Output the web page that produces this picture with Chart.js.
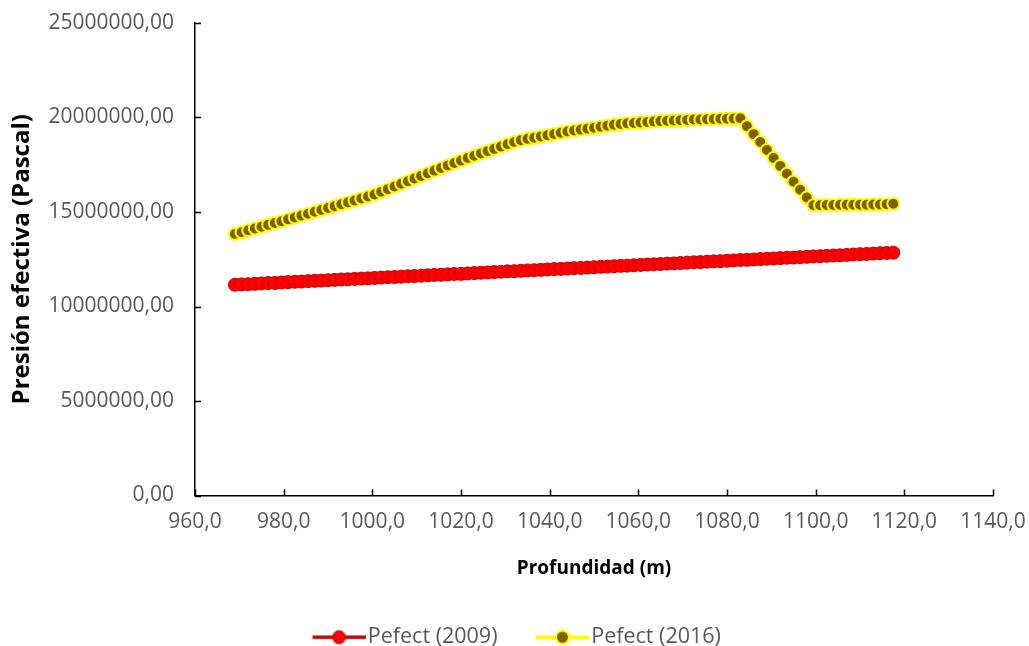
<!DOCTYPE html>
<html>
<head>
<meta charset="utf-8">
<script src="https://cdn.jsdelivr.net/npm/chart.js@4/dist/chart.umd.min.js"></script>
<style>
  html, body { margin: 0; padding: 0; background: #fff; }
  #wrap { width: 1029px; height: 646px; }
</style>
</head>
<body>
<div id="wrap"><canvas id="chart" width="1029" height="646"></canvas></div>
<script>
// Profundidad (m)
const depths = [
  969.0, 970.5, 972.0, 973.5, 975.0, 976.5, 978.0, 979.5, 981.0, 982.5,
  984.0, 985.5, 987.0, 988.5, 990.0, 991.5, 993.0, 994.5, 996.0, 997.5,
  999.0, 1000.5, 1002.0, 1003.5, 1005.0, 1006.5, 1008.0, 1009.5, 1011.0, 1012.5,
  1014.0, 1015.5, 1017.0, 1018.5, 1020.0, 1021.5, 1023.0, 1024.5, 1026.0, 1027.5,
  1029.0, 1030.5, 1032.0, 1033.5, 1035.0, 1036.5, 1038.0, 1039.5, 1041.0, 1042.5,
  1044.0, 1045.5, 1047.0, 1048.5, 1050.0, 1051.5, 1053.0, 1054.5, 1056.0, 1057.5,
  1059.0, 1060.5, 1062.0, 1063.5, 1065.0, 1066.5, 1068.0, 1069.5, 1071.0, 1072.5,
  1074.0, 1075.5, 1077.0, 1078.5, 1080.0, 1081.5, 1083.0, 1084.5, 1086.0, 1087.5,
  1089.0, 1090.5, 1092.0, 1093.5, 1095.0, 1096.5, 1098.0, 1099.5, 1101.0, 1102.5,
  1104.0, 1105.5, 1107.0, 1108.5, 1110.0, 1111.5, 1113.0, 1114.5, 1116.0, 1117.5
];

// Presión efectiva, in millions of Pascal
const pefect2009 = [
  11.15, 11.17, 11.18, 11.20, 11.22, 11.24, 11.25, 11.27, 11.29, 11.31,
  11.32, 11.34, 11.36, 11.37, 11.39, 11.41, 11.43, 11.44, 11.46, 11.48,
  11.49, 11.51, 11.53, 11.55, 11.56, 11.58, 11.60, 11.61, 11.63, 11.65,
  11.67, 11.68, 11.70, 11.72, 11.73, 11.75, 11.77, 11.79, 11.80, 11.82,
  11.84, 11.86, 11.87, 11.89, 11.91, 11.92, 11.94, 11.96, 11.98, 11.99,
  12.01, 12.03, 12.04, 12.06, 12.08, 12.10, 12.11, 12.13, 12.15, 12.16,
  12.18, 12.20, 12.22, 12.23, 12.25, 12.27, 12.28, 12.30, 12.32, 12.34,
  12.35, 12.37, 12.39, 12.40, 12.42, 12.44, 12.46, 12.47, 12.49, 12.51,
  12.53, 12.54, 12.56, 12.58, 12.59, 12.61, 12.63, 12.65, 12.66, 12.68,
  12.70, 12.71, 12.73, 12.75, 12.77, 12.78, 12.80, 12.82, 12.83, 12.85
];

const pefect2016 = [
  13.84, 13.93, 14.03, 14.13, 14.22, 14.32, 14.42, 14.51, 14.61, 14.71,
  14.81, 14.91, 15.01, 15.11, 15.21, 15.31, 15.41, 15.51, 15.61, 15.71,
  15.82, 15.93, 16.07, 16.21, 16.35, 16.49, 16.63, 16.77, 16.91, 17.05,
  17.19, 17.33, 17.46, 17.59, 17.72, 17.86, 17.98, 18.10, 18.22, 18.34,
  18.46, 18.58, 18.70, 18.80, 18.87, 18.93, 19.00, 19.06, 19.13, 19.19,
  19.26, 19.31, 19.36, 19.41, 19.46, 19.51, 19.56, 19.61, 19.66, 19.69,
  19.71, 19.74, 19.76, 19.79, 19.81, 19.83, 19.84, 19.86, 19.87, 19.89,
  19.90, 19.91, 19.92, 19.93, 19.94, 19.95, 19.96, 19.54, 19.12, 18.70,
  18.28, 17.86, 17.44, 17.02, 16.60, 16.18, 15.77, 15.36, 15.36, 15.37,
  15.37, 15.38, 15.38, 15.38, 15.39, 15.39, 15.40, 15.40, 15.41, 15.44
];

const seriesNames = ['Pefect (2009)', 'Pefect (2016)'];
const xTitle = 'Profundidad (m)';
const yTitle = 'Presión efectiva (Pascal)';

const FONT = "'Open Sans', 'DejaVu Sans', sans-serif";
const TICK_COLOR = '#595959';

const toPoints = (vals) => vals.map((v, i) => ({ x: depths[i], y: v * 1e6 }));

// legend icon: short line with a marker on it, drawn right of the box centre
function legendIcon(lineColor, fill, stroke, strokeW) {
  const c = document.createElement('canvas');
  c.width = 90;
  c.height = 18;
  const g = c.getContext('2d');
  g.strokeStyle = lineColor;
  g.lineWidth = 3.5;
  g.beginPath();
  g.moveTo(37, 9);
  g.lineTo(90, 9);
  g.stroke();
  g.beginPath();
  g.arc(63.5, 9, 6.5, 0, Math.PI * 2);
  g.fillStyle = fill;
  g.fill();
  g.lineWidth = strokeW;
  g.strokeStyle = stroke;
  g.stroke();
  return c;
}

const icons = [
  legendIcon('#C00000', '#FF0000', '#C00000', 1),
  legendIcon('#FFFF00', '#7F6000', '#FFFF00', 2)
];

// small tick marks pointing into the plot area
const innerTicks = {
  id: 'innerTicks',
  afterDraw(chart) {
    const { ctx, chartArea, scales } = chart;
    ctx.save();
    ctx.strokeStyle = '#000';
    ctx.lineWidth = 1.5;
    ctx.beginPath();
    scales.x.ticks.forEach(t => {
      const px = Math.round(scales.x.getPixelForValue(t.value)) + 0.5;
      ctx.moveTo(px, chartArea.bottom);
      ctx.lineTo(px, chartArea.bottom - 6);
    });
    scales.y.ticks.forEach(t => {
      const py = Math.round(scales.y.getPixelForValue(t.value)) + 0.5;
      ctx.moveTo(chartArea.left, py);
      ctx.lineTo(chartArea.left + 6, py);
    });
    ctx.stroke();
    ctx.restore();
  }
};

// fixed axis box sizes, no extra room for edge labels
const fixX = (s) => {
  s.height = 121;
  s.paddingLeft = 0;
  s.paddingRight = 0;
};
const fixY = (s) => {
  s.width = 183;
  s.paddingTop = 0;
  s.paddingBottom = 0;
};

new Chart(document.getElementById('chart'), {
  type: 'line',
  data: {
    datasets: [
      {
        label: seriesNames[0],
        data: toPoints(pefect2009),
        borderColor: '#C00000',
        borderWidth: 3,
        pointRadius: 6.5,
        pointBackgroundColor: '#FF0000',
        pointBorderColor: '#C00000',
        pointBorderWidth: 1
      },
      {
        label: seriesNames[1],
        data: toPoints(pefect2016),
        borderColor: '#FFFF00',
        borderWidth: 3,
        pointRadius: 6,
        pointBackgroundColor: '#7F6000',
        pointBorderColor: '#FFFF00',
        pointBorderWidth: 2
      }
    ]
  },
  options: {
    responsive: false,
    animation: false,
    layout: {
      autoPadding: false,
      padding: { left: 12, right: 36, top: 23, bottom: -12 }
    },
    plugins: {
      tooltip: { enabled: false },
      legend: {
        position: 'bottom',
        labels: {
          usePointStyle: true,
          pointStyleWidth: 73,
          padding: 10,
          color: TICK_COLOR,
          font: { family: FONT, size: 21.5 },
          generateLabels: (chart) => seriesNames.map((name, i) => ({
            text: name,
            pointStyle: icons[i],
            fillStyle: '#fff',
            strokeStyle: '#fff',
            lineWidth: 0,
            hidden: false,
            datasetIndex: i,
            fontColor: TICK_COLOR
          }))
        }
      }
    },
    scales: {
      x: {
        type: 'linear',
        min: 960,
        max: 1140,
        afterFit: fixX,
        grid: { drawOnChartArea: false, drawTicks: false },
        border: { display: true, color: '#000', width: 1.5 },
        ticks: {
          stepSize: 20,
          padding: 14,
          color: TICK_COLOR,
          font: { family: FONT, size: 21 },
          callback: (v) => v.toFixed(1).replace('.', ',')
        },
        title: {
          display: true,
          text: xTitle,
          color: '#000',
          font: { family: FONT, size: 19, weight: 'bold' },
          padding: { top: 0, bottom: 37 }
        }
      },
      y: {
        min: 0,
        max: 25000000,
        afterFit: fixY,
        grid: { drawOnChartArea: false, drawTicks: false },
        border: { display: true, color: '#000', width: 1.5 },
        ticks: {
          stepSize: 5000000,
          padding: 21,
          color: TICK_COLOR,
          font: { family: FONT, size: 21 },
          callback: (v) => v.toFixed(2).replace('.', ',')
        },
        title: {
          display: true,
          text: yTitle,
          color: '#000',
          font: { family: FONT, size: 24, weight: 'bold' },
          padding: { top: -4, bottom: 0 }
        }
      }
    }
  },
  plugins: [innerTicks]
});
</script>
</body>
</html>
